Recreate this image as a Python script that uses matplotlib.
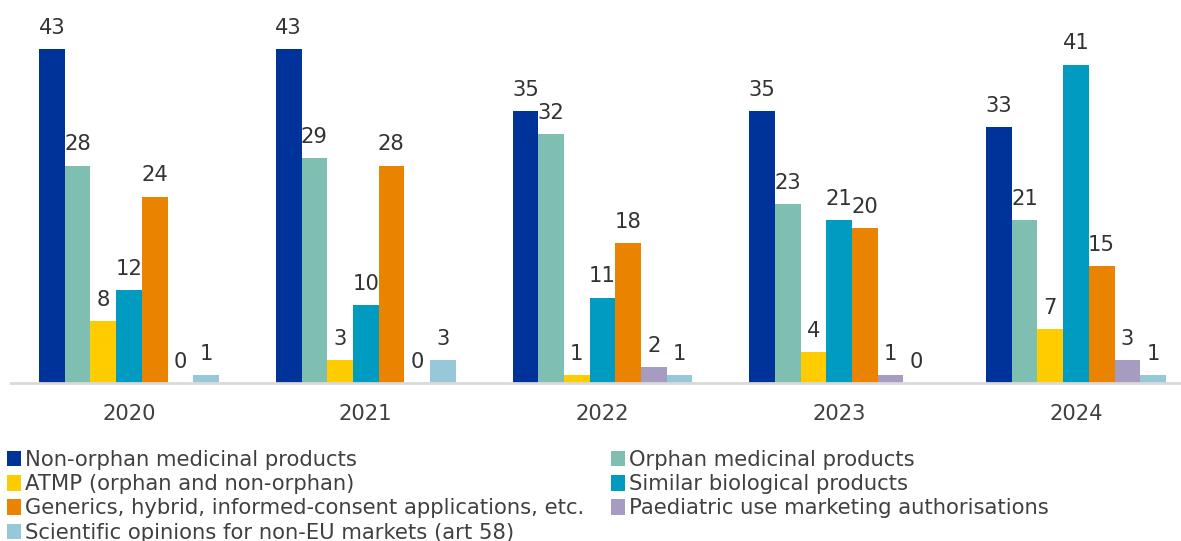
import matplotlib
matplotlib.use("Agg")
import matplotlib.pyplot as plt
import numpy as np

years = ["2020", "2021", "2022", "2023", "2024"]
series_names = [
    "Non-orphan medicinal products",
    "Orphan medicinal products",
    "ATMP (orphan and non-orphan)",
    "Similar biological products",
    "Generics, hybrid, informed-consent applications, etc.",
    "Paediatric use marketing authorisations",
    "Scientific opinions for non-EU markets (art 58)",
]
non_orphan = [43, 43, 35, 35, 33]
orphan = [28, 29, 32, 23, 21]
atmp = [8, 3, 1, 4, 7]
similar_bio = [12, 10, 11, 21, 41]
generics = [24, 28, 18, 20, 15]
paediatric = [0, 0, 2, 1, 3]
scientific = [1, 3, 1, 0, 1]
series_values = [non_orphan, orphan, atmp, similar_bio, generics, paediatric, scientific]
colors = ["#003399", "#7fbfb2", "#ffcc00", "#009bc0", "#e98300", "#a89bc2", "#96c8da"]

plt.rcParams["font.family"] = ["DejaVu Sans"]
FS = 15.2
W, H = 1181, 541
fig = plt.figure(figsize=(W / 100, H / 100), dpi=100)

# axes geometry in pixels
group_px = 236.75
left_px = 129 - group_px / 2
base_px = 383
ymax = 45
px_per_unit = 334 / 43
ax_h = ymax * px_per_unit
ax = fig.add_axes([left_px / W, (H - base_px) / H, 5 * group_px / W, ax_h / H])

x = np.arange(len(years))
bw = 0.1085
n = len(series_values)
handles = []
for i, (vals, c, name) in enumerate(zip(series_values, colors, series_names)):
    pos = x + (i - (n - 1) / 2) * bw
    bars = ax.bar(pos, vals, width=bw, color=c, label=name, zorder=2)
    handles.append(bars)
    for xp, v in zip(pos, vals):
        ax.annotate(str(v), (xp, v), xytext=(0, 8), textcoords="offset points",
                    ha="center", va="bottom", fontsize=FS, color="#333333")

ax.set_xlim(-0.5, len(years) - 0.5)
ax.set_ylim(0, ymax)
ax.set_xticks(x)
ax.set_xticklabels(years, fontsize=FS, color="#404040")
ax.tick_params(axis="x", length=0, pad=15)
ax.set_yticks([])
for s in ["top", "right", "left"]:
    ax.spines[s].set_visible(False)
ax.spines["bottom"].set_color("#d9d9d9")
ax.spines["bottom"].set_linewidth(2)
ax.patch.set_visible(False)

order = [0, 2, 4, 6, 1, 3, 5]
leg = fig.legend([handles[i] for i in order], [series_names[i] for i in order],
                 ncol=2, loc="upper left", bbox_to_anchor=(7 / W, 1 - 450 / H),
                 frameon=False, fontsize=FS, labelcolor="#404040",
                 handlelength=0.65, handleheight=0.75, handletextpad=0.22,
                 labelspacing=0.2, columnspacing=1.25, borderpad=0, borderaxespad=0)

fig.savefig("out.png", dpi=100)
